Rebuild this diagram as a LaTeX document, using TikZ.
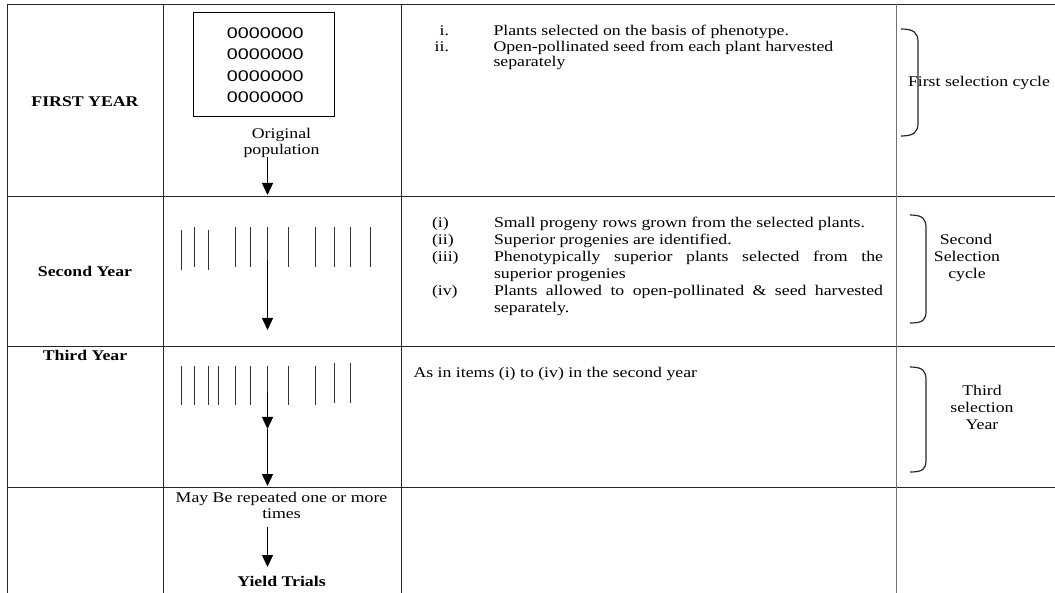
\documentclass[tikz,border=0pt]{standalone}
\usepackage{fontspec}
\setmainfont{Liberation Serif}[FakeStretch=1.2]
\newfontfamily\zerofont{Liberation Sans}[FakeStretch=1.28]
\usetikzlibrary{arrows.meta}

\begin{document}
\begin{tikzpicture}[x=1pt, y=-1pt,
  every node/.style={inner sep=0pt, outer sep=0pt, font=\fontsize{14.8}{17}\selectfont},
  rule/.style={draw=black!85, line width=0.9pt},
  softrule/.style={draw=black!55, line width=0.9pt},
  plant/.style={draw=black!80, line width=1.5pt},
  flow/.style={draw=black, line width=1.3pt, -{Triangle[width=11pt,length=12pt]}},
  brace/.style={draw=black!85, line width=1.2pt},
  yearlbl/.style={anchor=base, font=\fontsize{14.8}{17}\selectfont\bfseries},
  zeros/.style={anchor=base, font=\fontsize{15.4}{21}\zerofont},
  num/.style={anchor=base west},
  item/.style={anchor=base west},
  cycle/.style={anchor=base}
]
\useasboundingbox (0,0) rectangle (1055,593);

% table rules
\draw[rule] (7,4) -- (1055,4);
\draw[rule] (7,196) -- (1055,196);
\draw[rule] (7,346) -- (1055,346);
\draw[rule] (7,487) -- (1055,487);
\draw[rule] (7,4) -- (7,593);
\draw[rule] (163,4) -- (163,593);
\draw[rule] (401,4) -- (401,593);
\draw[softrule] (896,4) -- (896,593);

% year labels
\node[yearlbl] (y1) at (85,106.7) {FIRST YEAR};
\node[yearlbl] (y2) at (85,276.5) {Second Year};
\node[yearlbl] (y3) at (85,361) {Third Year};

% first year: original population
\node[draw=black, line width=1pt, minimum width=141pt, minimum height=104pt] (pop) at (264.3,65) {};
\node[zeros] (z1) at (265.3,39) {0000000};
\node[zeros] (z2) at (265.3,60) {0000000};
\node[zeros] (z3) at (265.3,81.3) {0000000};
\node[zeros] (z4) at (265.3,102.5) {0000000};
\node[anchor=base] (orig1) at (281.5,138.8) {Original};
\node[anchor=base] (orig2) at (281.5,154.5) {population};
\coordinate (a1s) at (267.5,157);
\coordinate (a1e) at (267.5,195);
\draw[flow] (a1s) -- (a1e);

% second year: progeny rows
\foreach \x/\t in {181.5/230,194.5/227,208.5/230,235.5/227,250.5/227,267.5/227,288.5/227,315.5/227,334.5/227,350.5/227,370.5/227}
  \draw[plant] (\x,\t) -- (\x,\t+40);
\coordinate (a2s) at (267.5,260);
\coordinate (a2e) at (267.5,330);
\draw[flow] (a2s) -- (a2e);

% third year: progeny rows
\foreach \x/\t/\b in {181.5/366/405,194.5/366/405,208.5/366/405,218.5/366/405,235.5/366/405,250.5/366/405,267.5/366/405,288.5/366/405,315.5/366/405,334.5/363/403,350.5/363/403}
  \draw[plant] (\x,\t) -- (\x,\b);
\coordinate (a3s) at (267.5,392);
\coordinate (a3m) at (267.5,429);
\coordinate (a3e) at (267.5,486);
\draw[flow] (a3s) -- (a3m);
\draw[flow] (a3m) -- (a3e);

% repetition and yield trials
\node[anchor=base] (rep1) at (281.5,502) {May Be repeated one or more};
\node[anchor=base] (rep2) at (281.5,518) {times};
\coordinate (a4s) at (267.5,527);
\coordinate (a4e) at (267.5,567);
\draw[flow] (a4s) -- (a4e);
\node[yearlbl] (yt) at (281.5,586) {Yield Trials};

% first year notes
\node[anchor=base east] (n1a) at (449,36) {i.};
\node[anchor=base east] (n1b) at (449,51.5) {ii.};
\node[item] (t1a) at (493.5,36) {Plants selected on the basis of phenotype.};
\node[item] (t1b) at (493.5,51.5) {Open-pollinated seed from each plant harvested};
\node[item] (t1c) at (493.5,67) {separately};

% second year notes
\node[num] (n2a) at (432,227.5) {(i)};
\node[num] (n2b) at (432,244.5) {(ii)};
\node[num] (n2c) at (432,261.5) {(iii)};
\node[num] (n2d) at (432,295.5) {(iv)};
\node[item] (t2a) at (494,227.5) {Small progeny rows grown from the selected plants.};
\node[item] (t2b) at (494,244.5) {Superior progenies are identified.};
\node[item] (t2c) at (494,261.5) {\makebox[389pt][s]{Phenotypically superior plants selected from the}};
\node[item] (t2d) at (494,278.5) {superior progenies};
\node[item] (t2e) at (494,295.5) {\makebox[389pt][s]{Plants allowed to open-pollinated \& seed harvested}};
\node[item] (t2f) at (494,312.5) {separately.};

% third year notes
\node[item] (t3a) at (413.5,378) {As in items (i) to (iv) in the second year};

% selection cycle braces
\draw[brace] (901,29) .. controls (914,29) and (918,33) .. (918,42) -- (918,123) .. controls (918,132) and (914,136) .. (901,136);
\node[anchor=base west] (c1) at (908,87) {First selection cycle};

\draw[brace] (910,215) .. controls (923,215) and (926,219) .. (926,228) -- (926,311) .. controls (926,320) and (923,323) .. (910,323);
\node[cycle] (c2a) at (966,245) {Second};
\node[cycle] (c2b) at (967,262) {Selection};
\node[cycle] (c2c) at (967,279) {cycle};

\draw[brace] (910,367) .. controls (923,367) and (926,371) .. (926,380) -- (926,460) .. controls (926,469) and (923,472) .. (910,472);
\node[cycle] (c3a) at (982,396) {Third};
\node[cycle] (c3b) at (982,412.5) {selection};
\node[cycle] (c3c) at (982,429) {Year};
\end{tikzpicture}
\end{document}
